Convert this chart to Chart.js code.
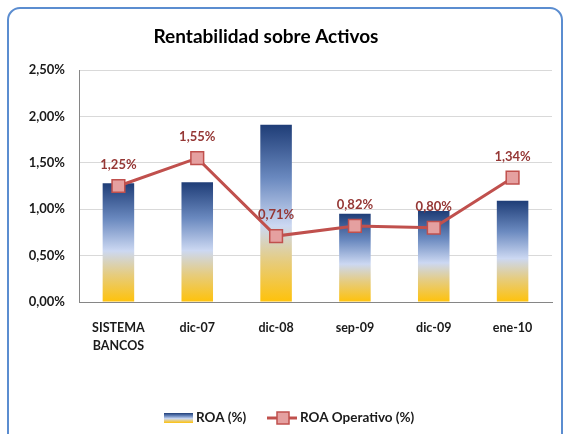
<!DOCTYPE html>
<html>
<head>
<meta charset="utf-8">
<script src="https://cdn.jsdelivr.net/npm/chart.js@4.4.1/dist/chart.umd.min.js"></script>
<style>
  html, body { margin: 0; padding: 0; background: #fff; }
  #wrap { position: relative; width: 565px; height: 434px; overflow: hidden; }
  #frame {
    position: absolute; left: 7px; top: 7px; width: 556px; height: 440px;
    border: 2px solid #5B8DD0; border-radius: 13px; box-sizing: border-box;
  }
  canvas { position: absolute; left: 0; top: 0; }
</style>
</head>
<body>
<div id="wrap">
  <div id="frame"></div>
  <canvas id="chart" width="565" height="434"></canvas>
</div>
<script>
const categories = [['SISTEMA', 'BANCOS'], 'dic-07', 'dic-08', 'sep-09', 'dic-09', 'ene-10'];
const roa = [1.28, 1.29, 1.91, 0.95, 0.98, 1.09];
const roaOperativo = [1.25, 1.55, 0.71, 0.82, 0.80, 1.34];
const yTicks = [0, 0.5, 1, 1.5, 2, 2.5];

const FONT = 'Lato, "Open Sans", sans-serif';
const fmt = v => v.toFixed(2).replace('.', ',') + '%';

function barGradient(ctx, top, bottom) {
    const g = ctx.createLinearGradient(0, top, 0, bottom);
    g.addColorStop(0, '#1F3D77');
    g.addColorStop(0.3, '#6A89BF');
    g.addColorStop(0.57, '#CCD8F2');
    g.addColorStop(0.77, '#E6CC7E');
    g.addColorStop(1, '#FFC20A');
    return g;
}

// title, point labels and legend
const extras = {
    id: 'extras',
    afterDatasetsDraw(chart) {
        const ctx = chart.ctx;
        ctx.save();
        // title
        ctx.fillStyle = '#000';
        ctx.font = 'bold 19px ' + FONT;
        ctx.textAlign = 'center';
        ctx.textBaseline = 'middle';
        ctx.fillText('Rentabilidad sobre Activos', 266, 37);

        // labels above line points
        const meta = chart.getDatasetMeta(1);
        ctx.font = 'bold 13px ' + FONT;
        ctx.fillStyle = '#953735';
        meta.data.forEach((pt, i) => {
            ctx.fillText(fmt(roaOperativo[i]), pt.x, pt.y - 21);
        });

        // legend
        const ly = 418;
        ctx.fillStyle = barGradient(ctx, ly - 5, ly + 5);
        ctx.fillRect(164, ly - 5, 29, 10);
        ctx.font = 'bold 13.5px ' + FONT;
        ctx.fillStyle = '#1a1a1a';
        ctx.textAlign = 'left';
        ctx.fillText('ROA (%)', 196, ly);

        ctx.strokeStyle = '#C0504D';
        ctx.lineWidth = 3;
        ctx.beginPath();
        ctx.moveTo(267, ly);
        ctx.lineTo(297, ly);
        ctx.stroke();
        ctx.fillStyle = '#E5A0A0';
        ctx.lineWidth = 1.5;
        ctx.fillRect(277, ly - 6, 12, 12);
        ctx.strokeRect(277, ly - 6, 12, 12);
        ctx.fillStyle = '#1a1a1a';
        ctx.fillText('ROA Operativo (%)', 300, ly);
        ctx.restore();
    }
};

new Chart(document.getElementById('chart'), {
    data: {
        labels: categories,
        datasets: [
            {
                type: 'bar',
                label: 'ROA (%)',
                data: roa,
                order: 2,
                categoryPercentage: 1,
                barPercentage: 0.4,
                backgroundColor: c => {
                    const chart = c.chart;
                    if (!chart.chartArea || c.raw === undefined) return '#6A89BF';
                    const y = chart.scales.y;
                    return barGradient(chart.ctx, y.getPixelForValue(c.raw), y.getPixelForValue(0));
                },
                borderWidth: 0
            },
            {
                type: 'line',
                label: 'ROA Operativo (%)',
                data: roaOperativo,
                order: 1,
                borderColor: '#C0504D',
                borderWidth: 3,
                pointStyle: 'rect',
                pointRadius: 9,
                pointBackgroundColor: '#E5A0A0',
                pointBorderColor: '#C0504D',
                pointBorderWidth: 1.5,
                tension: 0
            }
        ]
    },
    options: {
        responsive: false,
        animation: false,
        layout: { padding: { left: 0, right: 13, top: 70, bottom: 82 } },
        plugins: {
            legend: { display: false },
            tooltip: { enabled: false },
            title: { display: false }
        },
        scales: {
            x: {
                grid: { display: false, drawTicks: false },
                border: { color: '#868686', width: 1 },
                afterFit: s => { s.height = 50; },
                ticks: {
                    padding: 17,
                    color: '#1a1a1a',
                    font: { family: FONT, size: 12.5, weight: 'bold', lineHeight: 1.45 }
                }
            },
            y: {
                min: 0,
                max: 2.5,
                afterFit: s => { s.width = 79; },
                afterBuildTicks: s => { s.ticks = yTicks.map(v => ({ value: v })); },
                grid: { color: '#D9D9D9', drawTicks: false },
                border: { color: '#868686', width: 1 },
                ticks: {
                    padding: 14,
                    color: '#1a1a1a',
                    font: { family: FONT, size: 13, weight: 'bold' },
                    callback: v => fmt(v)
                }
            }
        }
    },
    plugins: [extras]
});
</script>
</body>
</html>
